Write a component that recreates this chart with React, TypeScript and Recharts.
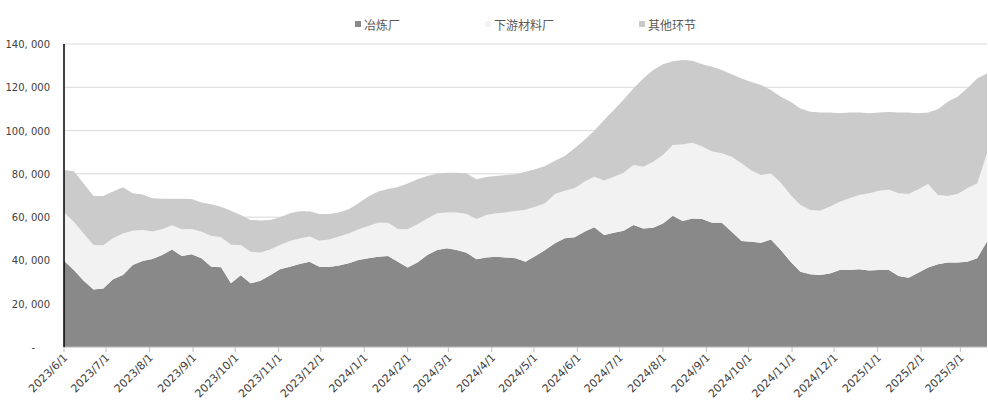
import React from 'react';
import { AreaChart, Area, XAxis, YAxis, CartesianGrid, Legend } from 'recharts';

// weekly dates
const weeks = [
  '2023/6/1', '2023/6/8', '2023/6/15', '2023/6/22', '2023/6/29',
  '2023/7/6', '2023/7/13', '2023/7/20', '2023/7/27',
  '2023/8/3', '2023/8/10', '2023/8/17', '2023/8/24', '2023/8/31',
  '2023/9/7', '2023/9/14', '2023/9/21', '2023/9/28',
  '2023/10/5', '2023/10/12', '2023/10/19', '2023/10/26',
  '2023/11/2', '2023/11/9', '2023/11/16', '2023/11/23', '2023/11/30',
  '2023/12/7', '2023/12/14', '2023/12/21', '2023/12/28',
  '2024/1/4', '2024/1/11', '2024/1/18', '2024/1/25',
  '2024/2/1', '2024/2/8', '2024/2/15', '2024/2/22', '2024/2/29',
  '2024/3/7', '2024/3/14', '2024/3/21', '2024/3/28',
  '2024/4/4', '2024/4/11', '2024/4/18', '2024/4/25',
  '2024/5/2', '2024/5/9', '2024/5/16', '2024/5/23', '2024/5/30',
  '2024/6/6', '2024/6/13', '2024/6/20', '2024/6/27',
  '2024/7/4', '2024/7/11', '2024/7/18', '2024/7/25',
  '2024/8/1', '2024/8/8', '2024/8/15', '2024/8/22', '2024/8/29',
  '2024/9/5', '2024/9/12', '2024/9/19', '2024/9/26',
  '2024/10/3', '2024/10/10', '2024/10/17', '2024/10/24', '2024/10/31',
  '2024/11/7', '2024/11/14', '2024/11/21', '2024/11/28',
  '2024/12/5', '2024/12/12', '2024/12/19', '2024/12/26',
  '2025/1/2', '2025/1/9', '2025/1/16', '2025/1/23', '2025/1/30',
  '2025/2/6', '2025/2/13', '2025/2/20', '2025/2/27',
  '2025/3/6', '2025/3/13', '2025/3/20',
];

const smelter = [
  39900, 35600, 30600, 26600, 27000, 31300, 33300, 37900, 39700, 40700,
  42500, 45100, 42000, 42800, 41000, 37100, 36800, 29400, 33100, 29400,
  30600, 33100, 35900, 37100, 38300, 39400, 37100, 37000, 37600, 38700,
  40200, 41000, 41700, 42000, 39400, 36700, 39000, 42500, 44800, 45600,
  44800, 43600, 40500, 41400, 41700, 41400, 41000, 39400, 42000, 44800,
  47900, 50200, 50700, 53300, 55300, 51700, 52800, 53700, 56400, 54800,
  55100, 57100, 60700, 58200, 59400, 59100, 57400, 57400, 53300, 49000,
  48600, 48200, 49700, 44800, 39400, 34800, 33600, 33300, 34000, 35600,
  35600, 35900, 35300, 35600, 35600, 32800, 32000, 34300, 36700, 38200,
  39100, 39000, 39400, 41000, 48700,
];

const downstream = [
  22200, 22300, 21900, 20500, 20000, 18900, 19200, 15800, 14400, 12700,
  11900, 11100, 12400, 11700, 12300, 14200, 13900, 17900, 14000, 14600,
  13100, 12000, 11200, 11900, 11800, 11600, 12000, 12700, 13400, 13800,
  14200, 14900, 15700, 15400, 15100, 17700, 17700, 16900, 17000, 16500,
  17400, 17800, 18600, 19600, 20100, 20800, 21800, 24000, 22800, 21600,
  22800, 22000, 22600, 23100, 23400, 25200, 25900, 26800, 27700, 28500,
  30500, 31600, 32600, 35400, 35000, 33500, 32900, 32100, 34600, 35900,
  32900, 31300, 30500, 31100, 30800, 30800, 29700, 29700, 30800, 31500,
  33100, 34300, 35700, 36600, 37000, 38200, 38700, 38600, 38600, 32000,
  30700, 31700, 33900, 34600, 40800,
];

const others = [
  19700, 23300, 23100, 22700, 22800, 21600, 21300, 17300, 16400, 15300,
  14100, 12300, 14100, 13900, 13500, 14600, 14100, 15700, 13900, 14700,
  14800, 13600, 12800, 12800, 12600, 11700, 12300, 11700, 11200, 11100,
  12000, 13600, 14400, 15600, 19400, 21200, 20800, 19600, 18400, 18400,
  18300, 18800, 18400, 17500, 17200, 17300, 17000, 17600, 17300, 17200,
  15400, 16000, 18500, 19200, 21200, 28000, 30800, 33900, 35400, 40800,
  42400, 42000, 38700, 39000, 37900, 38100, 39200, 38500, 38100, 39200,
  41000, 41500, 38500, 39700, 43100, 44600, 45400, 45300, 43500, 40900,
  39600, 38100, 37000, 36200, 36000, 37300, 37600, 35100, 33000, 39600,
  43500, 44900, 46200, 48500, 36900,
];

const monthTicks = [
  '2023/6/1', '2023/7/1', '2023/8/1', '2023/9/1', '2023/10/1', '2023/11/1', '2023/12/1',
  '2024/1/1', '2024/2/1', '2024/3/1', '2024/4/1', '2024/5/1', '2024/6/1', '2024/7/1',
  '2024/8/1', '2024/9/1', '2024/10/1', '2024/11/1', '2024/12/1',
  '2025/1/1', '2025/2/1', '2025/3/1',
];

const yTicks = [0, 20000, 40000, 60000, 80000, 100000, 120000, 140000];

const seriesKeys = ['smelter', 'downstream', 'others'];
const seriesNames = ['冶炼厂', '下游材料厂', '其他环节'];
const seriesColors = ['#898989', '#f2f2f2', '#cbcbcb'];

const toTime = (s: string) => {
  const [y, m, d] = s.split('/').map(Number);
  return Date.UTC(y, m - 1, d);
};

const fmtDate = (t: number) => {
  const d = new Date(t);
  return `${d.getUTCFullYear()}/${d.getUTCMonth() + 1}/${d.getUTCDate()}`;
};

const fmtNum = (v: number) => (v === 0 ? '-' : v.toLocaleString('en-US').replace(',', ', '));

const data = weeks.map((w, i) => ({
  t: toTime(w),
  smelter: smelter[i],
  downstream: downstream[i],
  others: others[i],
}));

const XTick = ({ x, y, payload }: any) => (
  <g transform={`translate(${x},${y})`}>
    <text x={0} y={0} dy={6} textAnchor="end" transform="rotate(-45)"
      fontSize={11} fill="#404040" fontFamily="DejaVu Sans">
      {fmtDate(payload.value)}
    </text>
  </g>
);

const YTick = ({ x, y, payload }: any) => (
  <text x={payload.value === 0 ? x - 15 : x} y={y} dy={4} textAnchor="end"
    fontSize={10} fill="#404040" fontFamily="DejaVu Sans">
    {fmtNum(payload.value)}
  </text>
);

const LegendBox = () => (
  <div style={{
    display: 'flex', justifyContent: 'center', alignItems: 'center', gap: 85,
    height: 24, fontSize: 12, color: '#595959', fontFamily: '"Noto Sans CJK SC"',
  }}>
    {seriesNames.map((n, i) => (
      <div key={n} style={{ display: 'flex', alignItems: 'center' }}>
        <span style={{ width: 6, height: 6, background: seriesColors[i], marginRight: 3, display: 'inline-block' }} />
        <span>{n}</span>
      </div>
    ))}
  </div>
);

export default function App() {
  return (
    <div style={{ position: 'absolute', left: 0, top: 0, background: '#fff' }}>
      <AreaChart width={988} height={408} data={data} margin={{ top: 20, right: 1, left: 0, bottom: 0 }}>
        <CartesianGrid vertical={false} stroke="#d9d9d9" />
        <Legend verticalAlign="top" content={<LegendBox />} wrapperStyle={{ left: 64, width: 923, top: 12 }} />
        <XAxis
          dataKey="t"
          type="number"
          domain={['dataMin', 'dataMax']}
          ticks={monthTicks.map(toTime)}
          tick={<XTick />}
          tickSize={5}
          stroke="#bfbfbf"
          height={61}
          interval={0}
        />
        <YAxis
          domain={[0, 140000]}
          ticks={yTicks}
          tick={<YTick />}
          tickLine={false}
          tickSize={0}
          tickMargin={14}
          axisLine={{ stroke: '#000', strokeWidth: 1.5 }}
          width={64}
          interval={0}
        />
        {seriesKeys.map((k, i) => (
          <Area
            key={k}
            type="linear"
            dataKey={k}
            name={seriesNames[i]}
            stackId="1"
            stroke="none"
            fill={seriesColors[i]}
            fillOpacity={1}
            isAnimationActive={false}
          />
        ))}
      </AreaChart>
    </div>
  );
}
